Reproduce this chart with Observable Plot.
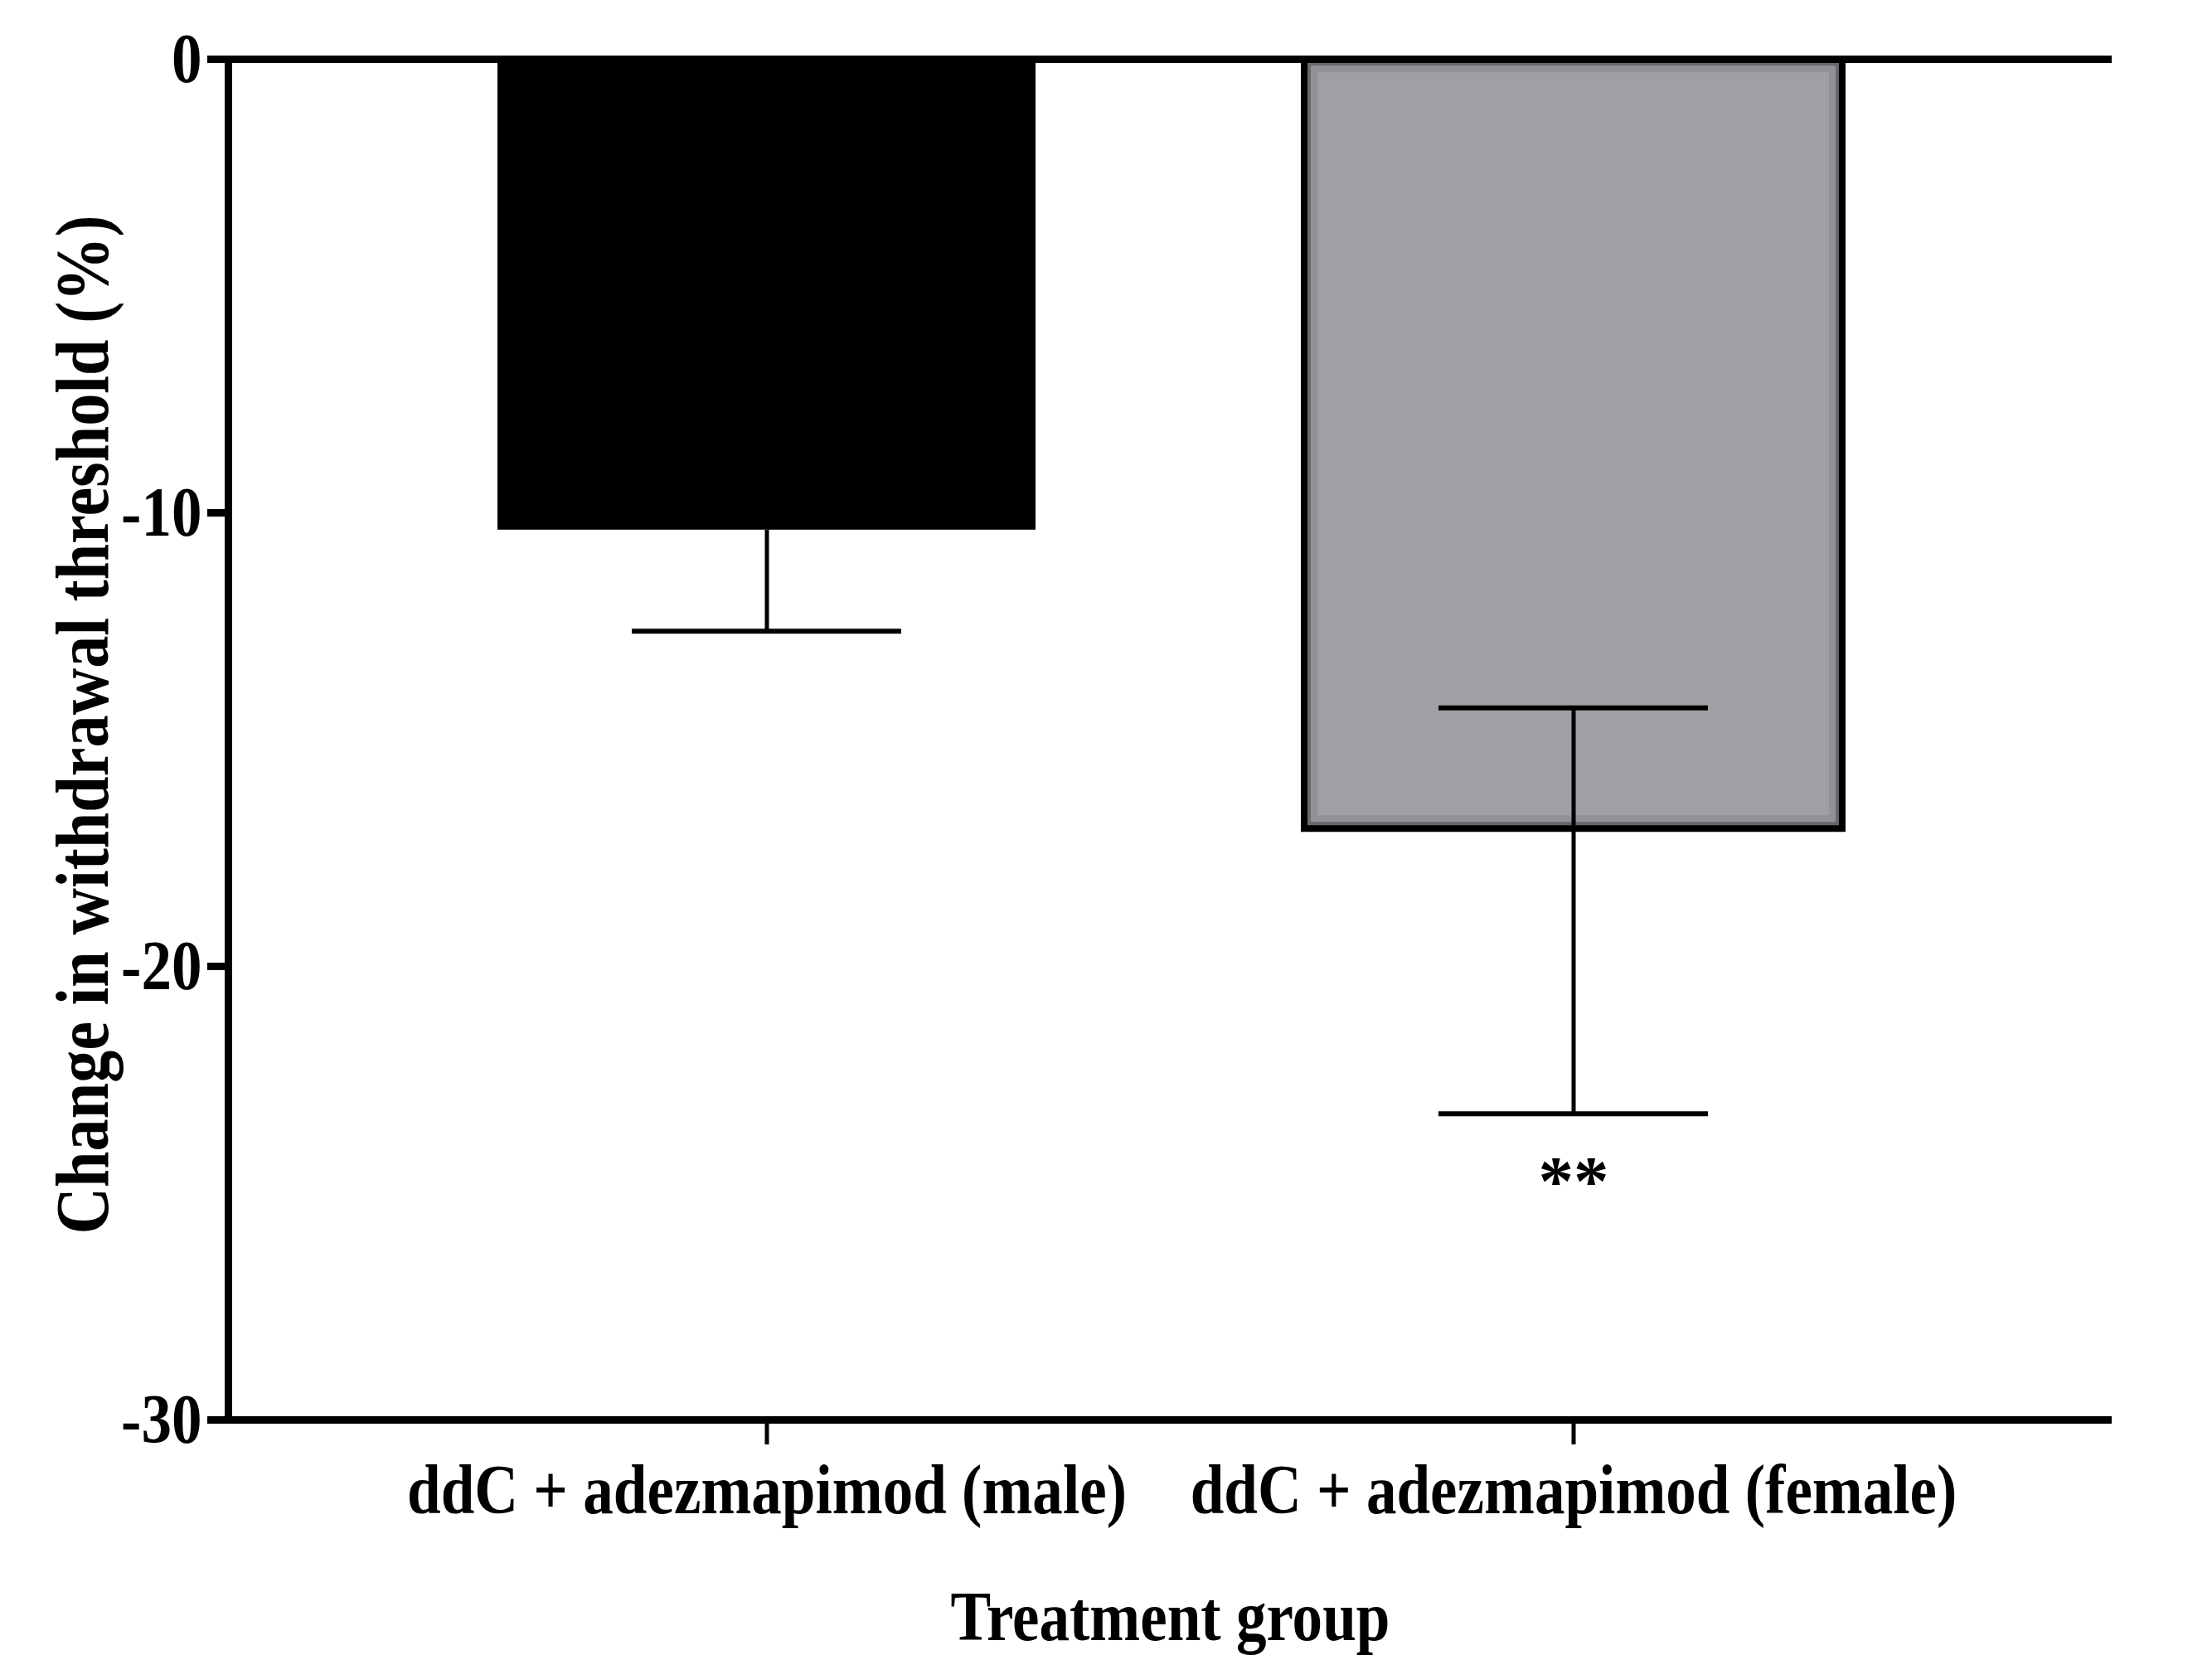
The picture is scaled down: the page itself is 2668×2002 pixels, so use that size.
<!DOCTYPE html>
<html>
<head>
<meta charset="utf-8">
<script src="https://cdn.jsdelivr.net/npm/d3@7"></script>
<script src="https://cdn.jsdelivr.net/npm/@observablehq/plot@0.6"></script>
<style>
  html, body { margin: 0; padding: 0; background: #ffffff; }
  #chart svg { display: block; }
</style>
</head>
<body>
<div id="chart"></div>
<script>
// Treatment groups and mean change in withdrawal threshold (%)
const groups = ["ddC + adezmapimod (male)", "ddC + adezmapimod (female)"];
const means = [-10.38, -16.97];
// Error bar ends (upper end is hidden inside the solid male bar)
const errUpper = [null, -14.30];
const errLower = [-12.61, -23.25];
// Significance marks under each group
const significance = ["", "**"];
// Y axis ticks and their labels
const yTicks = [0, -10, -20, -30];
const yTickLabels = ["0", "-10", "-20", "-30"];
const barFills = ["#000000", "#a09fa4"];

const bars = groups.map((g, i) => ({group: g, value: means[i], fill: barFills[i]}));
const solidBars = bars.filter(d => d.fill === "#000000");
const greyBars = bars.filter(d => d.fill !== "#000000");
const stems = groups.map((g, i) => ({group: g, top: errUpper[i] ?? means[i], bottom: errLower[i]}));
const caps = [];
groups.forEach((g, i) => {
  caps.push({group: g, value: errLower[i]});
  if (errUpper[i] !== null) caps.push({group: g, value: errUpper[i]});
});
const marks = groups.map((g, i) => ({group: g, value: errLower[i], text: significance[i]})).filter(d => d.text);

const font = "'Liberation Serif', 'Times New Roman', Times, serif";

const chart = Plot.plot({
  width: 2668,
  height: 2002,
  marginLeft: 275,
  marginRight: 121,
  marginTop: 71,
  marginBottom: 290,
  style: {fontFamily: font, fontSize: "85px", fontWeight: "bold", color: "#000", background: "#fff"},
  x: {domain: groups, padding: 1 / 3, label: null},
  y: {domain: [-30, 0], label: null},
  marks: [
    // solid male bar
    Plot.barY(solidBars, {x: "group", y: "value", fill: "fill"}),
    // grey female bar with a soft darker rim just inside its black outline
    Plot.barY(greyBars, {x: "group", y: "value", fill: "fill"}),
    Plot.barY(greyBars, {x: "group", y: "value", fill: "none", stroke: "#808084", strokeWidth: 14, strokeOpacity: 0.45, inset: 9}),
    Plot.barY(greyBars, {x: "group", y: "value", fill: "none", stroke: "#5e5d61", strokeWidth: 6, strokeOpacity: 0.8, inset: 5}),
    Plot.barY(greyBars, {x: "group", y: "value", fill: "none", stroke: "#000", strokeWidth: 8}),
    // error bars
    Plot.ruleX(stems, {x: "group", y1: "top", y2: "bottom", stroke: "#000", strokeWidth: 5}),
    Plot.tickY(caps, {x: "group", y: "value", stroke: "#000", strokeWidth: 6, insetLeft: 162, insetRight: 162}),
    // significance
    Plot.text(marks, {x: "group", y: "value", text: "text", dy: 83, fontSize: 85, fontWeight: "bold", fill: "#000", className: "sig"}),
    // axis lines
    Plot.ruleY([0, -30], {stroke: "#000", strokeWidth: 9}),
    Plot.frame({anchor: "left", stroke: "#000", strokeWidth: 9}),
    Plot.axisY({
      ticks: yTicks,
      tickFormat: d => yTickLabels[yTicks.indexOf(d)],
      tickSize: 25,
      tickPadding: 7,
      strokeWidth: 9,
      label: "Change in withdrawal threshold (%)",
      labelAnchor: "center",
      labelArrow: "none",
      labelOffset: 210,
      fontSize: 85
    }),
    Plot.axisX({
      tickSize: 30,
      tickPadding: 22,
      strokeWidth: 5,
      label: "Treatment group",
      labelAnchor: "center",
      labelArrow: "none",
      labelOffset: 265
    })
  ]
});

// narrow bold serif lettering; the vertical axis title is set a little larger and higher
chart.querySelectorAll("text").forEach(t => {
  if (t.closest(".sig")) return;
  let tr = t.getAttribute("transform") || "";
  if (t.textContent.startsWith("Change in")) {
    t.textContent = t.textContent.replace(/\s*[↑↓→←]\s*$/, "").replace(/^\s*[↑↓→←]\s*/, "");
    t.style.fontSize = "91px";
    tr = "translate(0,-18) " + tr;
  }
  t.setAttribute("transform", (tr + " scale(0.86,1)").trim());
});

document.getElementById("chart").appendChild(chart);
</script>
</body>
</html>
